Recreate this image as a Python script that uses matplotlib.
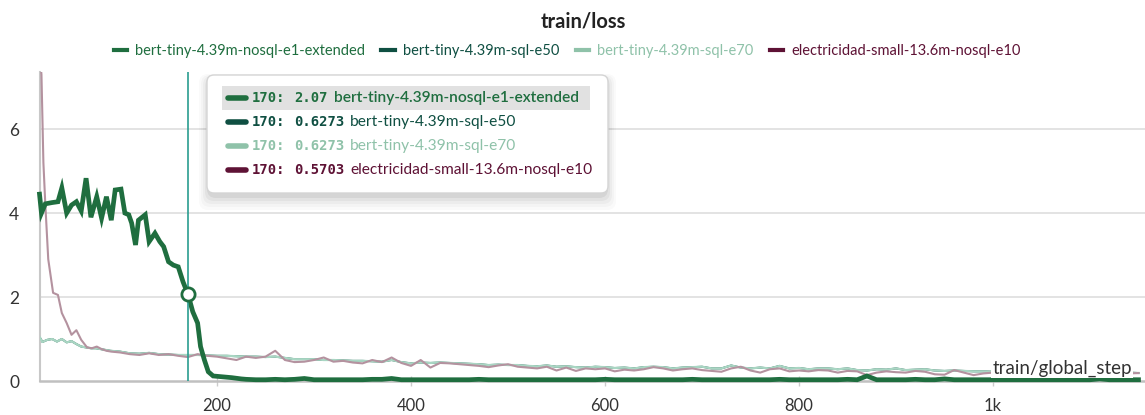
import numpy as np
import matplotlib
matplotlib.use("Agg")
import matplotlib.pyplot as plt
from matplotlib.patches import FancyBboxPatch
from matplotlib.lines import Line2D

# ---------------- data ----------------
run_names = ["bert-tiny-4.39m-nosql-e1-extended", "bert-tiny-4.39m-sql-e50",
             "bert-tiny-4.39m-sql-e70", "electricidad-small-13.6m-nosql-e10"]
legend_colors = ["#1f6e3f", "#0f4f42", "#8fc2a9", "#5e1235"]

# bert-tiny nosql e1 extended
green_steps_early = [17, 19, 23, 30, 36, 40, 45, 50, 55, 60, 65, 70, 76, 81, 86, 91, 95,
                     101, 105, 109, 112, 116, 119, 126, 130, 136, 141, 145, 150, 155, 160,
                     165, 170, 175, 180, 183, 187, 191, 196, 205, 215, 225, 230]
green_vals_early = [4.45, 4.0, 4.22, 4.25, 4.27, 4.6, 4.0, 4.19, 4.27, 4.05, 4.83, 3.9, 4.39,
                    3.88, 4.39, 3.83, 4.55, 4.57, 4.0, 3.96, 3.76, 3.24, 3.83, 3.96, 3.32,
                    3.52, 3.32, 3.2, 2.84, 2.76, 2.72, 2.36, 2.07, 1.65, 1.38, 0.82, 0.5,
                    0.22, 0.12, 0.1, 0.08, 0.05, 0.04]
green_steps_tail = np.arange(240, 1160, 10)
green_vals_tail = [0.03, 0.03, 0.04, 0.03, 0.04, 0.06, 0.03, 0.03, 0.03, 0.03,
                   0.03, 0.03, 0.04, 0.04, 0.06, 0.03, 0.03, 0.03, 0.03, 0.03,
                   0.03, 0.03, 0.03, 0.04, 0.03, 0.03, 0.03, 0.03, 0.03, 0.03,
                   0.03, 0.03, 0.03, 0.03, 0.03, 0.03, 0.04, 0.03, 0.03, 0.03,
                   0.03, 0.03, 0.03, 0.03, 0.03, 0.04, 0.03, 0.03, 0.03, 0.03,
                   0.03, 0.03, 0.03, 0.03, 0.04, 0.03, 0.03, 0.03, 0.03, 0.03,
                   0.03, 0.04, 0.03, 0.12, 0.03, 0.03, 0.03, 0.03, 0.04, 0.03,
                   0.03, 0.05, 0.03, 0.03, 0.03, 0.03, 0.03, 0.03, 0.03, 0.03,
                   0.03, 0.03, 0.03, 0.03, 0.03, 0.03, 0.03, 0.05, 0.03, 0.03,
                   0.03, 0.03]

# bert-tiny sql e70 (e50 identical)
light_steps_early = [17, 20, 25, 30, 35, 40, 45, 50, 55, 60, 65, 70, 75, 80, 85, 90]
light_vals_early = [1.05, 0.93, 0.98, 1.0, 0.94, 1.0, 0.92, 0.95, 0.88, 0.82, 0.8, 0.78,
                    0.78, 0.76, 0.74, 0.72]
tail_steps = np.arange(100, 1160, 10)
light_vals_tail = [0.70, 0.66, 0.65, 0.67, 0.64, 0.63, 0.62, 0.62, 0.62, 0.61,
                   0.60, 0.60, 0.59, 0.58, 0.58, 0.57, 0.58, 0.55, 0.52, 0.52,
                   0.52, 0.50, 0.50, 0.49, 0.48, 0.48, 0.47, 0.46, 0.50, 0.45,
                   0.42, 0.44, 0.43, 0.44, 0.43, 0.42, 0.41, 0.40, 0.38, 0.39,
                   0.38, 0.38, 0.36, 0.35, 0.37, 0.34, 0.35, 0.33, 0.32, 0.34,
                   0.33, 0.31, 0.32, 0.30, 0.33, 0.34, 0.33, 0.30, 0.32, 0.33,
                   0.34, 0.30, 0.30, 0.37, 0.32, 0.30, 0.32, 0.30, 0.36, 0.30,
                   0.31, 0.28, 0.30, 0.30, 0.28, 0.30, 0.26, 0.25, 0.28, 0.27,
                   0.30, 0.26, 0.27, 0.28, 0.25, 0.24, 0.25, 0.24, 0.23, 0.23,
                   0.22, 0.23, 0.22, 0.21, 0.22, 0.22, 0.21, 0.21, 0.20, 0.21,
                   0.20, 0.20, 0.20, 0.19, 0.20, 0.19]
e50_vals_early = list(light_vals_early)
e50_vals_tail = list(light_vals_tail)

# electricidad-small nosql e10
pink_steps_early = [17, 19, 21, 23, 26, 31, 36, 40, 45, 50, 55, 60, 66, 71, 76, 81, 86, 91]
pink_vals_early = [7.8, 7.3, 5.2, 4.2, 2.9, 2.1, 2.05, 1.62, 1.38, 1.1, 1.21, 0.98, 0.8,
                   0.78, 0.82, 0.76, 0.72, 0.7]
pink_vals_tail = [0.68, 0.64, 0.62, 0.66, 0.62, 0.64, 0.60, 0.57, 0.64, 0.60,
                  0.58, 0.54, 0.50, 0.58, 0.55, 0.58, 0.72, 0.50, 0.45, 0.46,
                  0.50, 0.56, 0.46, 0.48, 0.44, 0.42, 0.50, 0.45, 0.56, 0.43,
                  0.36, 0.50, 0.32, 0.43, 0.42, 0.40, 0.38, 0.36, 0.33, 0.37,
                  0.40, 0.34, 0.32, 0.30, 0.34, 0.25, 0.32, 0.24, 0.30, 0.28,
                  0.30, 0.23, 0.27, 0.25, 0.28, 0.33, 0.30, 0.25, 0.28, 0.30,
                  0.26, 0.24, 0.22, 0.30, 0.34, 0.25, 0.20, 0.28, 0.30, 0.23,
                  0.25, 0.23, 0.26, 0.25, 0.20, 0.24, 0.23, 0.14, 0.20, 0.23,
                  0.21, 0.20, 0.24, 0.22, 0.16, 0.15, 0.26, 0.20, 0.14, 0.18,
                  0.20, 0.26, 0.22, 0.20, 0.24, 0.20, 0.22, 0.19, 0.21, 0.20,
                  0.18, 0.20, 0.19, 0.20, 0.18, 0.19]

cursor_step = 170
cursor_value = 2.07
tooltip_values = ["2.07", "0.6273", "0.6273", "0.5703"]
y_ticks = [0, 2, 4, 6]
x_ticks = [200, 400, 600, 800, 1000]
x_tick_labels = ["200", "400", "600", "800", "1k"]

# ---------------- figure ----------------
W, H = 1145, 415
fig = plt.figure(figsize=(W / 100, H / 100), dpi=100)
FONT = "Lato"

L, R, T, B = 40, 1145, 72, 381
ax = fig.add_axes([L / W, (H - B) / H, (R - L) / W, (B - T) / H])
ax.set_xlim(17.5, 1156.7)
ax.set_ylim(0, 7.36)

for s in ["top", "right"]:
    ax.spines[s].set_visible(False)
ax.spines["left"].set_color("#c8c8c8")
ax.spines["left"].set_linewidth(1.5)
ax.spines["bottom"].set_color("#c0c0c0")
ax.spines["bottom"].set_linewidth(1.8)

ax.set_yticks(y_ticks)
ax.set_yticklabels([str(v) for v in y_ticks], fontfamily=FONT, fontsize=12.5, color="#333333")
ax.set_xticks(x_ticks)
ax.set_xticklabels(x_tick_labels, fontfamily=FONT, fontsize=12, color="#333333")
ax.tick_params(axis="y", length=0, pad=15)
ax.tick_params(axis="x", length=7, direction="inout", color="#cccccc", width=1, pad=9)
for yv in y_ticks[1:]:
    ax.axhline(yv, color="#dedede", lw=1.2, zorder=0)

# lines
ax.plot(light_steps_early + list(tail_steps), e50_vals_early + e50_vals_tail,
        color=legend_colors[1], lw=1.4, zorder=2)
ax.plot(light_steps_early + list(tail_steps), light_vals_early + light_vals_tail,
        color="#a9d6c3", lw=1.6, zorder=3)
ax.plot(pink_steps_early + list(tail_steps), pink_vals_early + pink_vals_tail,
        color="#b4929f", lw=1.5, zorder=4)
ax.plot(green_steps_early + list(green_steps_tail), green_vals_early + green_vals_tail,
        color=legend_colors[0], lw=3.4, zorder=5, clip_on=False, solid_joinstyle="miter")

ax.axvline(cursor_step, color="#2a9d90", lw=1.2, zorder=6)
ax.plot([cursor_step], [cursor_value], marker="o", ms=9.5, mfc="white", mec=legend_colors[0],
        mew=2, zorder=7)

ax.text(1143, 0.3, "train/global_step", ha="right", va="center", fontfamily=FONT,
        fontsize=13.5, color="#333333", zorder=8,
        bbox=dict(boxstyle="square,pad=0.05", fc="white", ec="none"), clip_on=False)

# title and legend
fig.text(583 / W, 1 - 22 / H, "train/loss", ha="center", va="center", fontfamily=FONT,
         fontsize=14.5, fontweight="bold", color="#222222")
handles = [Line2D([0], [0], color=c, lw=3) for c in legend_colors]
leg = fig.legend(handles, run_names, loc="center", bbox_to_anchor=(567 / W, 1 - 51 / H),
                 ncol=4, frameon=False, handlelength=0.9, handletextpad=0.55,
                 columnspacing=1.15, prop={"family": FONT, "size": 10.5})
for txt, c in zip(leg.get_texts(), legend_colors):
    txt.set_color(c)

# tooltip overlay (pixel coordinates)
ov = fig.add_axes([0, 0, 1, 1], zorder=10)
ov.set_xlim(0, W)
ov.set_ylim(H, 0)
ov.axis("off")
ov.patch.set_alpha(0)
for i, a in enumerate([0.05, 0.04, 0.03, 0.025, 0.02]):
    ov.add_patch(FancyBboxPatch((207 - 2 * i, 78 - i), 401 + 4 * i, 120 + 4 * i,
                                boxstyle="round,pad=0,rounding_size=9",
                                fc="black", ec="none", alpha=a))
ov.add_patch(FancyBboxPatch((207, 75), 401, 118, boxstyle="round,pad=0,rounding_size=7",
                            fc="white", ec="#d4d4d4", lw=1))
ov.add_patch(plt.Rectangle((222, 86), 368, 24, fc="#e1e1e1", ec="none"))
row_y = [98, 122, 146, 170]
for i, (yy, val, name, c) in enumerate(zip(row_y, tooltip_values, run_names, legend_colors)):
    ov.plot([228, 246], [yy, yy], color=c, lw=4, solid_capstyle="round")
    ov.text(252, yy, f"{cursor_step}:", ha="left", va="center", fontfamily="DejaVu Sans Mono",
            fontweight="bold", fontsize=10, color=c)
    ov.text(294, yy, val, ha="left", va="center", fontfamily="DejaVu Sans Mono",
            fontweight="bold", fontsize=10, color=c)
    xname = 334 if i == 0 else 350
    ov.text(xname, yy, name, ha="left", va="center", fontfamily=FONT,
            fontsize=11.2, color=c, fontweight="semibold" if i == 0 else "normal")

fig.savefig("out.png", dpi=100)
